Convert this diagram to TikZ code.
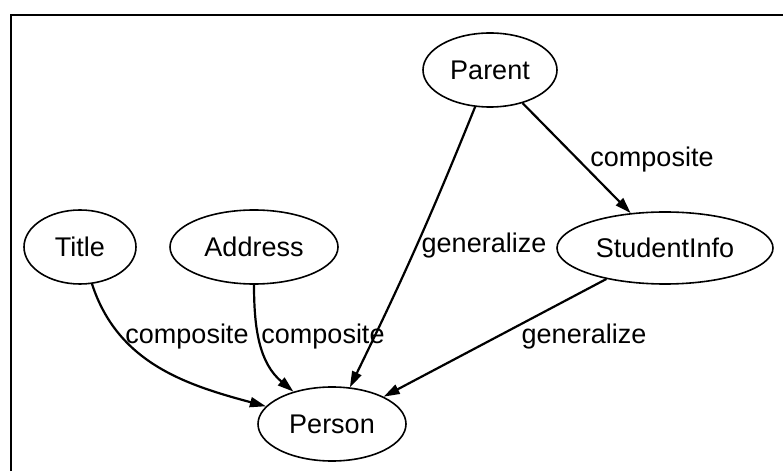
\documentclass[tikz,border=0pt]{standalone}
\usepackage{fontspec}
\setmainfont{Liberation Sans}
\usetikzlibrary{arrows.meta,shapes.geometric}

\tikzset{
  class/.style={draw,ellipse,line width=1.6pt,inner sep=0pt,font=\fontsize{27}{30}\selectfont},
  rel/.style={line width=2.2pt,-{Triangle[length=16pt,width=10pt]}},
  tag/.style={anchor=base,inner sep=0pt,font=\fontsize{27}{30}\selectfont},
}

\begin{document}
\begin{tikzpicture}[x=1pt,y=1pt]
\useasboundingbox (0,0) rectangle (783,471);
% frame
\draw[line width=2.2pt] (11,0) -- (11,456) -- (783,456);

% classes
\node[class,minimum width=134pt,minimum height=74pt] (parent) at (490,401) {Parent};
\node[class,minimum width=216pt,minimum height=72pt] (info) at (665,223) {StudentInfo};
\node[class,minimum width=112pt,minimum height=74pt] (title) at (80,224) {Title};
\node[class,minimum width=168pt,minimum height=74pt] (address) at (254,224) {Address};
\node[class,minimum width=148pt,minimum height=74pt] (person) at (332,47) {Person};

% relations
\draw[rel] (parent) -- (info);
\draw[rel] (info) -- (person);
\draw[rel] (parent) to[out=-112,in=64] (person);
\draw[rel] (address) to[out=-90,in=140] (person);
\draw[rel] (title) to[out=-72,in=165] (person);

% labels
\node[tag] (l1) at (652,304) {composite};
\node[tag] (l2) at (484,218) {generalize};
\node[tag] (l3) at (584,128) {generalize};
\node[tag] (l4) at (323,128) {composite};
\node[tag] (l5) at (187,128) {composite};
\end{tikzpicture}
\end{document}
